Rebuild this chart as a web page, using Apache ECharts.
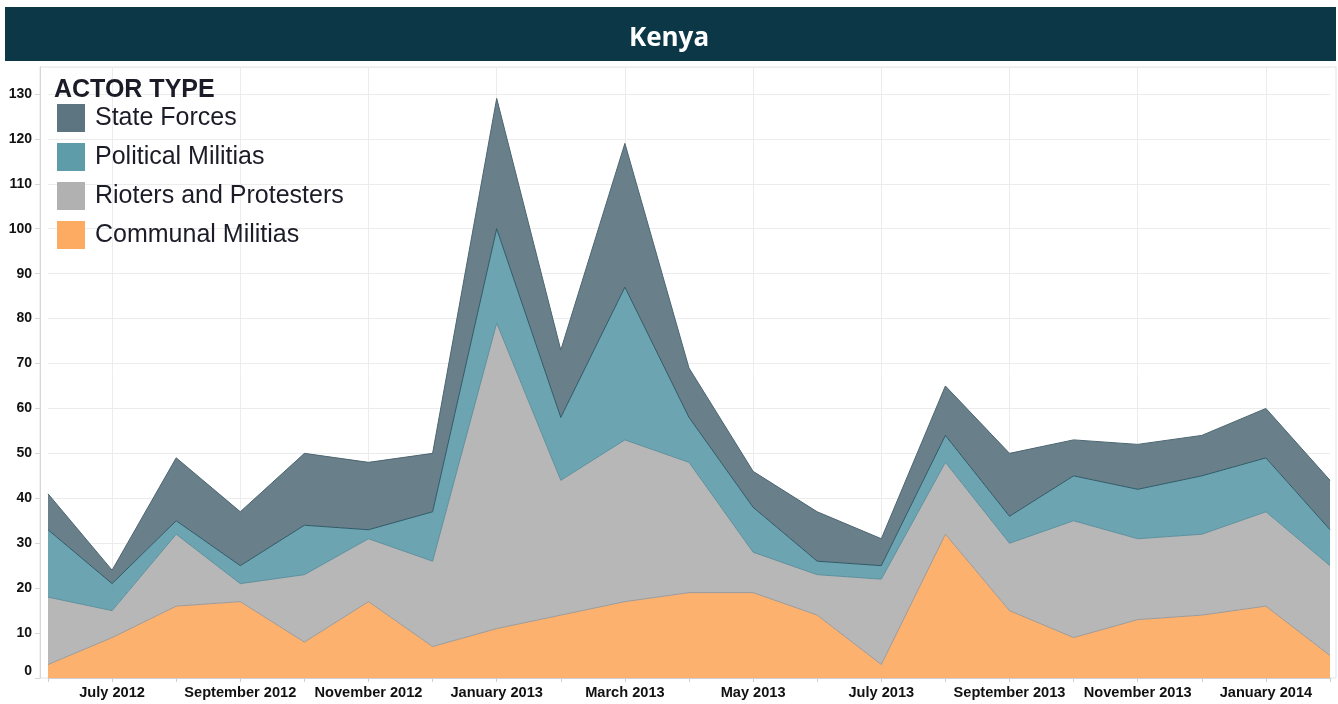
<!DOCTYPE html>
<html>
<head>
<meta charset="utf-8">
<script src="https://cdn.jsdelivr.net/npm/echarts@6/dist/echarts.min.js"></script>
<style>
  html, body { margin: 0; padding: 0; background: #fff; }
  #main { width: 1338px; height: 704px; }
</style>
</head>
<body>
<div id="main"></div>
<script>
// months June 2012 .. February 2014
const months = ['June 2012', 'July 2012', 'August 2012', 'September 2012', 'October 2012', 'November 2012', 'December 2012',
  'January 2013', 'February 2013', 'March 2013', 'April 2013', 'May 2013', 'June 2013', 'July 2013', 'August 2013',
  'September 2013', 'October 2013', 'November 2013', 'December 2013', 'January 2014', 'February 2014'];

// stacked, bottom to top
const communal = [3, 9, 16, 17, 8, 17, 7, 11, 14, 17, 19, 19, 14, 3, 32, 15, 9, 13, 14, 16, 5];
const rioters = [15, 6, 16, 4, 15, 14, 19, 68, 30, 36, 29, 9, 9, 19, 16, 15, 26, 18, 18, 21, 20];
const political = [15, 6, 3, 4, 11, 2, 11, 21, 14, 34, 10, 10, 3, 3, 6, 6, 10, 11, 13, 12, 8];
const stateForces = [8, 3, 14, 12, 16, 15, 13, 29, 15, 32, 11, 8, 11, 6, 11, 14, 8, 10, 9, 11, 11];

const yTicks = [0, 10, 20, 30, 40, 50, 60, 70, 80, 90, 100, 110, 120, 130];

const chart = echarts.init(document.getElementById('main'));

function area(name, data, fill, line) {
  return {
    name: name,
    type: 'line',
    stack: 'actors',
    data: data,
    showSymbol: false,
    symbol: 'none',
    itemStyle: { color: fill },
    lineStyle: { width: 1, color: line },
    areaStyle: { color: fill, opacity: 0.92 },
    emphasis: { disabled: true }
  };
}

const option = {
  animation: false,
  title: [{
    text: 'Kenya',
    left: 'center',
    top: 25,
    padding: 0,
    textStyle: { color: '#fff', fontFamily: 'Open Sans', fontWeight: 'bold', fontSize: 26, lineHeight: 28 }
  }, {
    text: 'ACTOR TYPE',
    left: 54,
    top: 78,
    padding: 0,
    textStyle: { color: '#1c1c28', fontFamily: 'Liberation Sans', fontWeight: 'bold', fontSize: 25 }
  }],
  graphic: [{
    type: 'rect',
    z: -10,
    shape: { x: 5, y: 7, width: 1331, height: 54 },
    style: { fill: '#0b3746' },
    silent: true
  }, {
    type: 'rect',
    z: -10,
    shape: { x: 40, y: 67, width: 1296, height: 611 },
    style: { fill: 'none', stroke: '#e4e4e4', lineWidth: 1 },
    silent: true
  }],
  legend: {
    orient: 'vertical',
    left: 57,
    top: 104,
    padding: 0,
    itemWidth: 28,
    itemHeight: 28,
    itemGap: 11,
    icon: 'rect',
    selectedMode: false,
    data: ['State Forces', 'Political Militias', 'Rioters and Protesters', 'Communal Militias'],
    textStyle: { color: '#1c1c28', fontFamily: 'Liberation Sans', fontSize: 25, padding: [0, 0, 0, 5] }
  },
  grid: { left: 48, right: 8, top: 67, bottom: 26 },
  xAxis: {
    type: 'category',
    data: months,
    boundaryGap: false,
    axisLine: { lineStyle: { color: '#cfcfcf' } },
    axisTick: { show: true, interval: 0, length: 4, lineStyle: { color: '#cfcfcf' } },
    axisLabel: {
      interval: (i) => i % 2 === 1,
      margin: 7,
      color: '#111',
      fontFamily: 'Liberation Sans',
      fontWeight: 'bold',
      fontSize: 14.6
    },
    splitLine: { show: true, interval: (i) => i % 2 === 1, lineStyle: { color: '#ececec' } }
  },
  yAxis: {
    type: 'value',
    min: 0,
    max: 136,
    interval: 10,
    offset: 8,
    axisLine: { show: true, lineStyle: { color: '#d6d6d6' } },
    axisTick: { show: true, length: 5, lineStyle: { color: '#d6d6d6' } },
    axisLabel: {
      showMaxLabel: false,
      margin: 8,
      color: '#111',
      fontFamily: 'Liberation Sans',
      fontWeight: 'bold',
      fontSize: 14,
      verticalAlignMinLabel: 'bottom',
      formatter: (v) => yTicks.indexOf(v) >= 0 ? String(v) : ''
    },
    splitLine: { show: true, lineStyle: { color: '#ececec' } }
  },
  series: [
    area('Communal Militias', communal, '#fdaa63', '#9a9a9a'),
    area('Rioters and Protesters', rioters, '#b1b1b1', '#5e8f9c'),
    area('Political Militias', political, '#5f9caa', '#2d5866'),
    area('State Forces', stateForces, '#5c7580', '#4c6570')
  ]
};

chart.setOption(option);
</script>
</body>
</html>
